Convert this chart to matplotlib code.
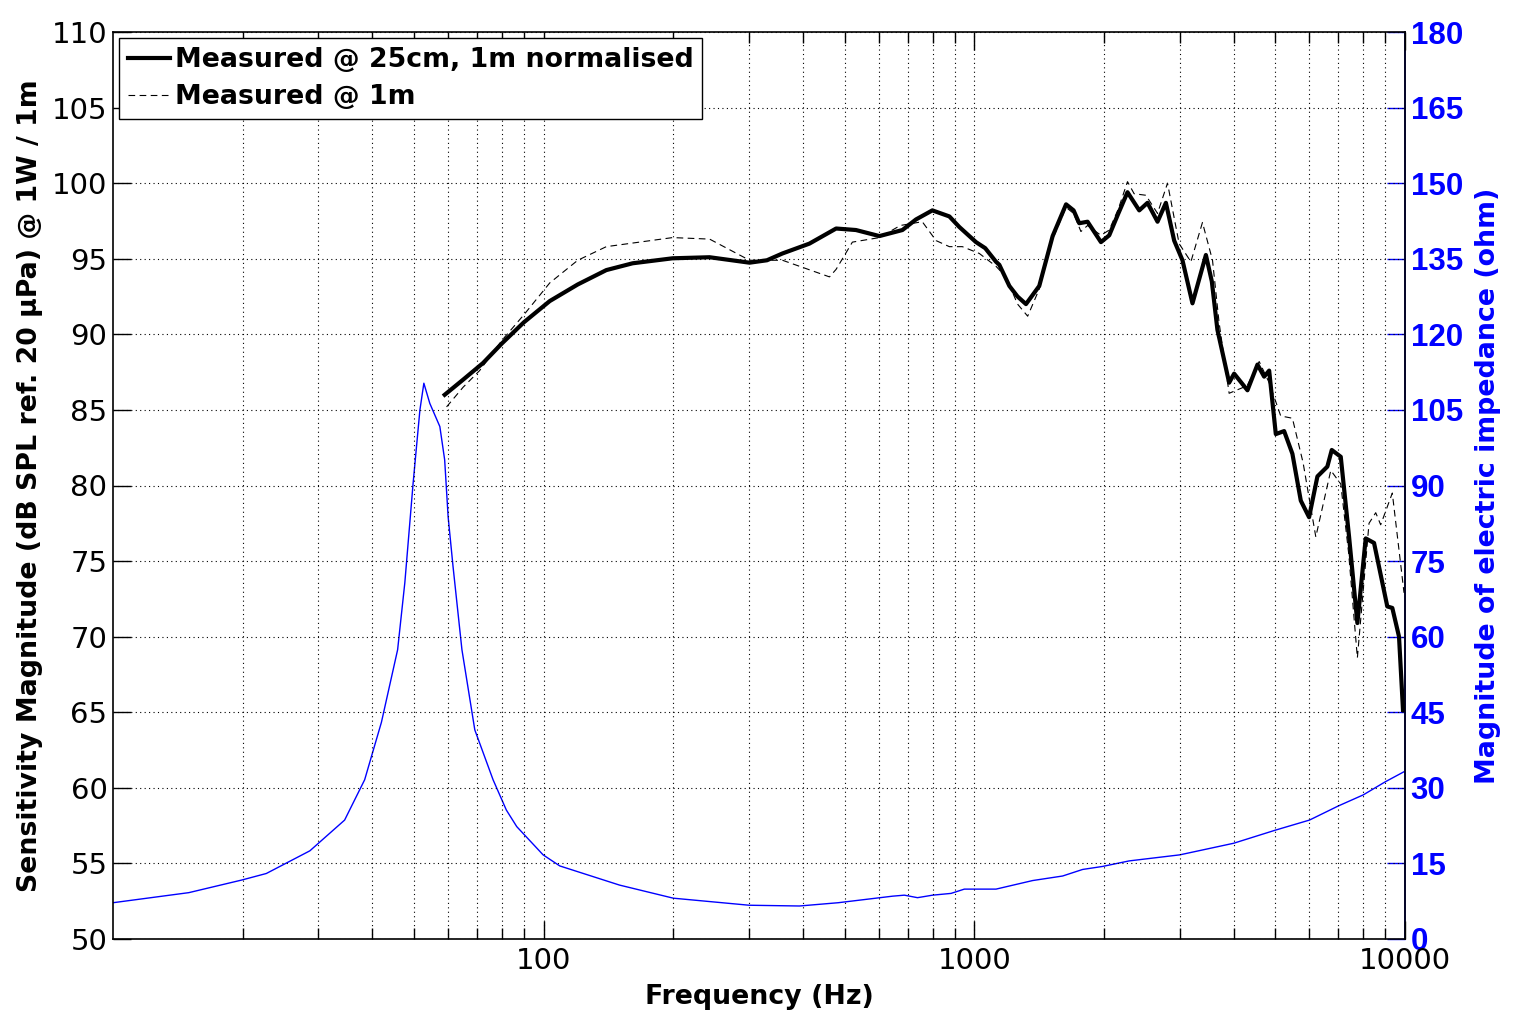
import matplotlib
matplotlib.use("Agg")
import matplotlib.pyplot as plt
from matplotlib.ticker import FixedLocator, NullFormatter, LogLocator

plt.rcParams['font.family'] = ['DejaVu Sans']

# ---- data ----
freq_25cm = [58.9, 65, 72.3, 80, 90, 103.3, 120, 139.8, 160.9, 199.2, 242.8, 300.6, 330, 358.5,
             414, 477.6, 531, 602, 680.8, 732, 799, 875, 923, 1009, 1060, 1123, 1143, 1206,
             1260, 1318, 1415, 1520, 1633, 1700, 1752, 1832, 1968, 2057, 2160, 2268, 2415,
             2524, 2663, 2785, 2911, 3043, 3210, 3449, 3560, 3668, 3802, 3905, 4011, 4307,
             4544, 4709, 4837, 5012, 5240, 5477, 5728, 5988, 6261, 6602, 6760, 7093, 7416,
             7752, 8105, 8475, 9097, 9344, 9685, 9894]
spl_25cm = [86.0, 87.0, 88.1, 89.4, 90.8, 92.2, 93.3, 94.25, 94.7, 95.03, 95.1, 94.74, 94.9, 95.35,
            96.0, 97.0, 96.9, 96.5, 96.9, 97.6, 98.2, 97.8, 97.1, 96.1, 95.7, 94.8, 94.6, 93.2,
            92.5, 92.0, 93.2, 96.5, 98.6, 98.2, 97.35, 97.45, 96.1, 96.55, 98.0, 99.4, 98.2,
            98.7, 97.45, 98.7, 96.2, 94.9, 92.05, 95.25, 93.5, 90.3, 88.3, 86.8, 87.4, 86.3,
            88.0, 87.2, 87.6, 83.4, 83.6, 82.1, 79.0, 77.9, 80.6, 81.25, 82.35, 81.9, 76.6,
            70.9, 76.5, 76.2, 72.0, 71.9, 70.0, 65.15]

freq_1m = [59.5, 65, 71, 80, 90, 103.3, 120, 139.8, 199.2, 242.8, 300.6, 358.5, 461, 477.6,
           521, 602, 673, 757, 815, 875, 938, 1027, 1123, 1184, 1260, 1330, 1415, 1520,
           1633, 1700, 1768, 1832, 1968, 2057, 2160, 2268, 2350, 2502, 2663, 2809, 2989,
           3183, 3386, 3573, 3700, 3905, 4300, 4586, 4837, 5146, 5477, 5800, 6207, 6725,
           7093, 7400, 7752, 8250, 8551, 8781, 9344, 9948]
spl_1m = [85.2, 86.5, 87.6, 89.6, 91.3, 93.4, 94.9, 95.8, 96.4, 96.3, 94.9, 94.9, 93.8, 94.3,
          96.1, 96.4, 97.2, 97.45, 96.2, 95.8, 95.8, 95.35, 94.5, 93.8, 92.0, 91.2, 93.0, 96.3,
          98.4, 98.0, 96.8, 97.2, 96.55, 96.9, 98.3, 100.1, 99.3, 99.2, 98.0, 100.0, 96.0,
          94.8, 97.4, 94.9, 90.8, 86.1, 86.6, 88.2, 86.8, 84.6, 84.45, 81.5, 76.6, 81.0,
          80.1, 75.5, 68.6, 77.5, 78.2, 77.4, 79.5, 72.9]

freq_imp = [10, 15, 19.9, 22.7, 28.65, 34.5, 38.4, 42, 45.8, 47.6, 49.75, 51.6, 52.7, 54.4,
            57.4, 58.9, 60, 61.6, 64.6, 69.2, 76.3, 81.9, 86.6, 99.7, 109, 150, 200, 300,
            392.6, 483, 646, 688, 738, 800, 883, 948, 1123, 1366, 1603, 1784, 1985, 2289,
            3000, 4000, 5000, 6000, 7000, 8000, 9000, 10000]
imp_ohm = [7.2, 9.2, 11.7, 13.0, 17.5, 23.6, 31.6, 43.0, 57.4, 70.7, 90.4, 105.0, 110.3, 106.3,
           101.7, 95.1, 83.8, 73.9, 57.4, 41.5, 31.6, 25.6, 22.3, 16.7, 14.5, 10.7, 8.1, 6.7,
           6.55, 7.2, 8.5, 8.7, 8.2, 8.7, 9.05, 9.9, 9.9, 11.6, 12.5, 13.8, 14.4, 15.5,
           16.7, 19.0, 21.6, 23.6, 26.4, 28.6, 31.2, 33.3]

x_ticks = [100, 1000, 10000]
x_tick_labels = ['100', '1000', '10000']
left_ticks = list(range(50, 111, 5))
right_ticks = list(range(0, 181, 15))

BLUE = '#0000ff'

# ---- figure ----
fig = plt.figure(figsize=(15.14, 10.29), dpi=100)
ax = fig.add_axes([113/1514, 1 - 939/1029, (1405-113)/1514, (939-32)/1029])
ax2 = ax.twinx()

ax.plot(freq_25cm, spl_25cm, color='black', lw=3.0, label='Measured @ 25cm, 1m normalised',
        solid_joinstyle='round')
ax.plot(freq_1m, spl_1m, color='black', lw=0.8, ls=(0, (6, 4)), label='Measured @ 1m')
ax2.plot(freq_imp, imp_ohm, color=BLUE, lw=1.0)

ax.set_xscale('log')
ax.set_xlim(10, 10000)
ax.set_ylim(50, 110)
ax2.set_ylim(0, 180)

ax.xaxis.set_major_locator(FixedLocator(x_ticks))
ax.set_xticklabels(x_tick_labels)
ax.xaxis.set_minor_locator(LogLocator(base=10, subs=range(2, 10)))
ax.xaxis.set_minor_formatter(NullFormatter())
ax.set_yticks(left_ticks)
ax2.set_yticks(right_ticks)

grid_style = dict(color='black', lw=0.8, ls=(0, (1, 3)))
ax.grid(True, which='major', axis='both', **grid_style)
ax.grid(True, which='minor', axis='x', **grid_style)

ax.tick_params(axis='x', which='major', direction='in', length=13, width=1, top=True,
               labelsize=21, pad=6)
ax.tick_params(axis='x', which='minor', direction='in', length=8, width=1, top=True)
ax.tick_params(axis='y', which='major', direction='in', length=13, width=1, labelsize=21,
               pad=4, right=False)
ax2.tick_params(axis='y', which='major', direction='in', length=13, width=1, colors=BLUE,
                labelsize=22.5, pad=4)
for lab in ax2.get_yticklabels():
    lab.set_fontweight('bold')
    lab.set_fontfamily('Liberation Sans')

for sp in ax.spines.values():
    sp.set_linewidth(1.2)
    sp.set_color('black')
ax2.spines['right'].set_color(BLUE)
ax2.spines['right'].set_linewidth(1.2)
ax2.spines['left'].set_visible(False)
ax2.spines['top'].set_visible(False)
ax2.spines['bottom'].set_visible(False)

label_font = dict(fontsize=19.3, fontweight='bold')
ax.set_xlabel('Frequency (Hz)', labelpad=6, **label_font)
ax.set_ylabel('Sensitivity Magnitude (dB SPL ref. 20 µPa) @ 1W / 1m', **label_font)
ax.yaxis.set_label_coords(-0.054, 0.5)
ax2.set_ylabel('Magnitude of electric impedance (ohm)', color=BLUE, **label_font)
ax2.yaxis.set_label_coords(1.054, 0.5)

leg = ax.legend(loc='upper left', prop=dict(size=19.3, weight='bold'), frameon=True,
                fancybox=False, framealpha=1, edgecolor='black', borderaxespad=0.24,
                handlelength=1.55, handletextpad=0.19, borderpad=0.32, labelspacing=0.42)
leg.get_frame().set_linewidth(1.0)
leg.set_zorder(10)
ax.set_zorder(ax2.get_zorder() + 1)
ax.patch.set_visible(False)

fig.savefig('out.png', dpi=100)
